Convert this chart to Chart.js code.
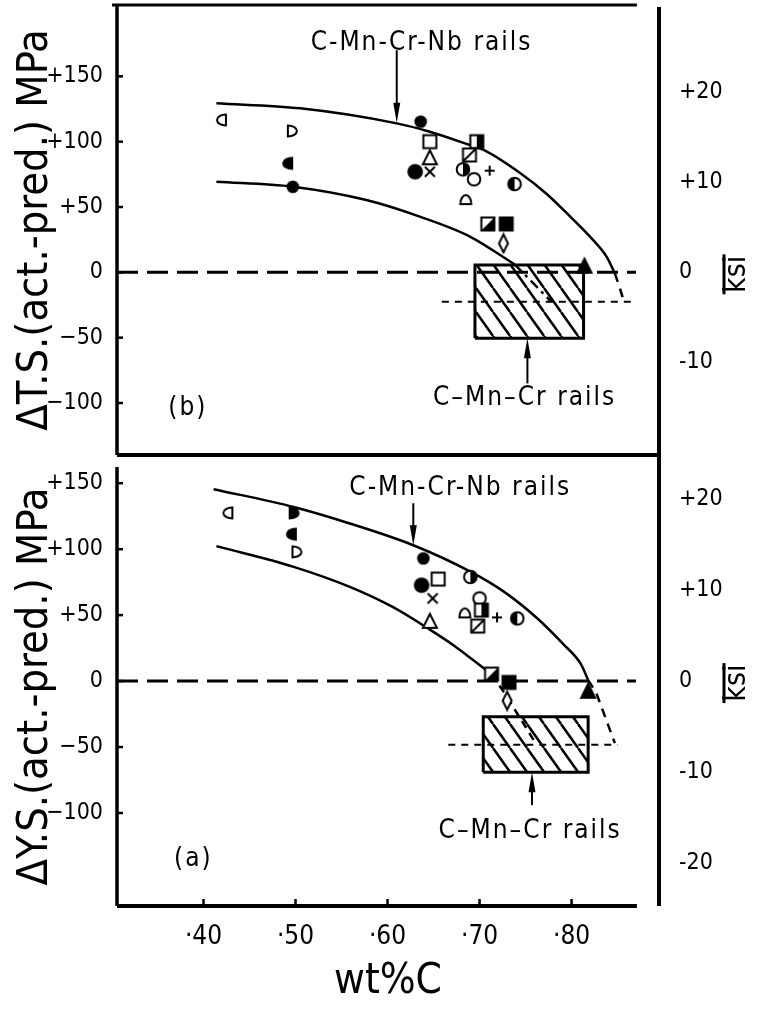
<!DOCTYPE html>
<html>
<head>
<meta charset="utf-8">
<script src="https://cdn.jsdelivr.net/npm/chart.js@4.4.1/dist/chart.umd.min.js"></script>
<style>
  html, body { margin: 0; padding: 0; background: #fff; }
  #wrap { position: relative; width: 761px; height: 1009px; }
  .panel { position: absolute; left: 0; width: 761px; }
  #tsPanel { top: 0; height: 460px; }
  #ysPanel { top: 460px; height: 549px; }
</style>
</head>
<body>
<div id="wrap">
  <div class="panel" id="tsPanel"><canvas id="tsChart"></canvas></div>
  <div class="panel" id="ysPanel"><canvas id="ysChart"></canvas></div>
</div>
<script>
// Deviation of actual from predicted strength vs carbon content

const KSI = 6.895; // MPa per ksi

const carbonTicks = [0.40, 0.50, 0.60, 0.70, 0.80];
const mpaTicks = [150, 100, 50, 0, -50, -100];
const ksiTicksTS = [20, 10, 0, -10];
const ksiTicksYS = [20, 10, 0, -10, -20];

const carbonMin = 0.306;
const carbonMax = 0.895;
const axisEndC = 0.871;
const tsMin = -139.8, tsMax = 204.6;
const ysMin = -170.5, ysMax = 162.3;

// (b) tensile strength
const tsCarbon = [0.420, 0.496, 0.492, 0.497, 0.636, 0.646, 0.646, 0.646, 0.630, 0.697,
                  0.689, 0.682, 0.694, 0.711, 0.738, 0.685, 0.709, 0.729, 0.726, 0.814];
const tsDelta = [116.6, 108.2, 83.4, 65.5, 115.3, 100.0, 87.3, 77.0, 77.0, 100.0,
                 89.8, 78.8, 71.2, 77.8, 67.6, 55.3, 37.0, 37.0, 22.2, 4.3];
const tsSymbol = ["dLeftOpen", "dRightOpen", "dLeftFilled", "dot", "dot", "square", "triangle", "x", "bigDot", "squareRight",
                  "squareSlash", "halfRight", "circle", "cross", "halfLeft", "dome", "squareSlashFilled", "squareFilled", "diamond", "triangleFilled"];

const tsUpperC = [0.414, 0.505, 0.610, 0.646, 0.684, 0.706, 0.744, 0.773, 0.798, 0.823, 0.838, 0.847];
const tsUpperD = [129.4, 125.5, 114.0, 107.6, 98.7, 93.1, 76.0, 60.0, 43.0, 25.0, 12.0, -0.8];
const tsUpperExtC = [0.847, 0.852, 0.857];
const tsUpperExtD = [-0.8, -11.0, -22.5];
const tsLowerC = [0.414, 0.497, 0.577, 0.635, 0.690, 0.738];
const tsLowerD = [69.3, 65.5, 55.3, 42.6, 27.2, 6.1];
const tsLowerExtC = [0.738, 0.758, 0.778];
const tsLowerExtD = [6.1, -8.0, -22.5];
const tsBoxC = [0.695, 0.813];
const tsBoxD = [-50.5, 5.6];
const tsRefC = [0.659, 0.867];
const tsRefD = -22.5;

// (a) yield strength
const ysCarbon = [0.427, 0.498, 0.496, 0.501, 0.639, 0.637, 0.655, 0.649, 0.646, 0.690,
                  0.700, 0.684, 0.702, 0.698, 0.719, 0.741, 0.713, 0.732, 0.730, 0.818];
const ysDelta = [127.5, 127.5, 111.4, 98.0, 93.0, 72.7, 77.3, 62.7, 44.9, 79.0,
                 62.7, 51.3, 53.8, 41.7, 48.3, 47.5, 5.3, -1.0, -14.9, -8.1];
const ysSymbol = ["dLeftOpen", "dRightFilled", "dLeftFilled", "dRightOpen", "dot", "bigDot", "square", "x", "triangle", "halfRight",
                  "circle", "dome", "squareRight", "squareSlash", "cross", "halfLeft", "squareSlashFilled", "squareFilled", "diamond", "triangleFilled"];

const ysUpperC = [0.411, 0.498, 0.559, 0.628, 0.690, 0.726, 0.762, 0.791, 0.810, 0.818];
const ysUpperD = [145.5, 132.0, 119.5, 103.0, 83.0, 68.0, 48.0, 28.0, 13.0, 0.8];
const ysUpperExtC = [0.818, 0.827, 0.847];
const ysUpperExtD = [0.8, -9.3, -47.0];
const ysLowerC = [0.414, 0.498, 0.559, 0.606, 0.646, 0.672, 0.693, 0.713];
const ysLowerD = [102.3, 86.6, 71.4, 56.0, 39.0, 27.0, 16.0, 5.3];
const ysLowerExtC = [0.713, 0.726, 0.744, 0.762];
const ysLowerExtD = [5.3, -8.0, -28.0, -48.3];
const ysBoxC = [0.704, 0.818];
const ysBoxD = [-69.2, -27.0];
const ysRefC = [0.666, 0.850];
const ysRefD = -48.3;

// labels and arrows
const tsNotes = [
  { text: "C-Mn-Cr-Nb rails", c: 0.637, d: 175 },
  { text: "C\u2013Mn\u2013Cr rails", c: 0.749, d: -96 },
  { text: "(b)", c: 0.383, d: -104 },
];
const tsArrows = [
  { c: 0.610, from: 170, to: 114.5 },
  { c: 0.752, from: -85, to: -50.5 },
];
const ysNotes = [
  { text: "C-Mn-Cr-Nb rails", c: 0.679, d: 146 },
  { text: "C\u2013Mn\u2013Cr rails", c: 0.755, d: -113.6 },
  { text: "(a)", c: 0.389, d: -135 },
];
const ysArrows = [
  { c: 0.628, from: 134.8, to: 103 },
  { c: 0.757, from: -94, to: -69.2 },
];

const FONT = "'DejaVu Sans Condensed', 'DejaVu Sans', sans-serif";
Chart.defaults.font.family = FONT;
Chart.defaults.color = "#000";

function pts(xs, ys) {
  return xs.map((x, i) => ({ x: x, y: Array.isArray(ys) ? ys[i] : ys }));
}

function boxPts(cs, ds) {
  return [
    { x: cs[0], y: ds[0] }, { x: cs[1], y: ds[0] },
    { x: cs[1], y: ds[1] }, { x: cs[0], y: ds[1] },
    { x: cs[0], y: ds[0] },
  ];
}

// small glyphs used as point styles
function markerCanvas(kind) {
  const size = 22;
  const cv = document.createElement("canvas");
  cv.width = size;
  cv.height = size;
  const g = cv.getContext("2d");
  g.translate(size / 2, size / 2);
  g.lineWidth = 2;
  g.strokeStyle = "#000";
  g.fillStyle = "#000";
  const s = 6.5;
  const white = () => { g.fillStyle = "#fff"; g.fill(); g.fillStyle = "#000"; };
  switch (kind) {
    case "dot":
      g.beginPath(); g.arc(0, 0, 6.3, 0, Math.PI * 2); g.fill(); break;
    case "bigDot":
      g.beginPath(); g.arc(0, 0, 7.8, 0, Math.PI * 2); g.fill(); break;
    case "circle":
      g.beginPath(); g.arc(0, 0, 6.3, 0, Math.PI * 2); white(); g.stroke(); break;
    case "halfLeft":
    case "halfRight":
      g.beginPath(); g.arc(0, 0, 6.3, 0, Math.PI * 2); white(); g.stroke();
      g.beginPath();
      if (kind === "halfLeft") g.arc(0, 0, 6.3, Math.PI / 2, Math.PI * 1.5);
      else g.arc(0, 0, 6.3, -Math.PI / 2, Math.PI / 2);
      g.closePath(); g.fill(); break;
    case "square":
      g.beginPath(); g.rect(-s, -s, 2 * s, 2 * s); white(); g.stroke(); break;
    case "squareFilled":
      g.fillRect(-s - 1, -s - 1, 2 * s + 2, 2 * s + 2); break;
    case "squareRight":
      g.beginPath(); g.rect(-s, -s, 2 * s, 2 * s); white();
      g.fillRect(0, -s, s, 2 * s); g.stroke(); break;
    case "squareSlash":
      g.beginPath(); g.rect(-s, -s, 2 * s, 2 * s); white(); g.stroke();
      g.beginPath(); g.moveTo(-s, s); g.lineTo(s, -s); g.stroke(); break;
    case "squareSlashFilled":
      g.beginPath(); g.rect(-s, -s, 2 * s, 2 * s); white();
      g.beginPath(); g.moveTo(-s, s); g.lineTo(s, s); g.lineTo(s, -s); g.closePath(); g.fill();
      g.beginPath(); g.rect(-s, -s, 2 * s, 2 * s); g.stroke(); break;
    case "triangle":
    case "triangleFilled":
      g.beginPath(); g.moveTo(0, -8); g.lineTo(7, 6); g.lineTo(-7, 6); g.closePath();
      if (kind === "triangle") { white(); g.stroke(); } else { g.fill(); g.stroke(); }
      break;
    case "cross":
      g.beginPath(); g.moveTo(-5, 0); g.lineTo(5, 0); g.moveTo(0, -5); g.lineTo(0, 5); g.stroke(); break;
    case "x":
      g.beginPath(); g.moveTo(-5, -5); g.lineTo(5, 5); g.moveTo(5, -5); g.lineTo(-5, 5); g.stroke(); break;
    case "diamond":
      g.beginPath(); g.moveTo(0, -9); g.lineTo(4.5, 0); g.lineTo(0, 9); g.lineTo(-4.5, 0); g.closePath();
      white(); g.stroke(); break;
    case "dLeftOpen":
    case "dLeftFilled":
      g.beginPath(); g.moveTo(4, -5.5); g.lineTo(4, 5.5);
      g.ellipse(4, 0, 9, 5.5, 0, Math.PI / 2, Math.PI * 1.5); g.closePath();
      if (kind === "dLeftOpen") { white(); g.stroke(); } else { g.fill(); g.stroke(); }
      break;
    case "dRightOpen":
    case "dRightFilled":
      g.beginPath(); g.moveTo(-4, 5.5); g.lineTo(-4, -5.5);
      g.ellipse(-4, 0, 9, 5.5, 0, -Math.PI / 2, Math.PI / 2); g.closePath();
      if (kind === "dRightOpen") { white(); g.stroke(); } else { g.fill(); g.stroke(); }
      break;
    case "dome":
      g.beginPath(); g.ellipse(0, 4, 5.5, 9, 0, Math.PI, Math.PI * 2); g.closePath();
      white(); g.stroke(); break;
  }
  return cv;
}

const MARKERS = {};
[...new Set(tsSymbol.concat(ysSymbol))].forEach((k) => { MARKERS[k] = markerCanvas(k); });

function hatchPattern(canvasId) {
  const w = 17, h = 24;
  const cv = document.createElement("canvas");
  cv.width = w;
  cv.height = h;
  const g = cv.getContext("2d");
  g.strokeStyle = "#000";
  g.lineWidth = 2.5;
  g.beginPath();
  [-w, 0, w].forEach((k) => { g.moveTo(k, 0); g.lineTo(k + w, h); });
  g.stroke();
  return document.getElementById(canvasId).getContext("2d").createPattern(cv, "repeat");
}

function fmtMPa(v) {
  if (v > 0) return "+" + v;
  if (v < 0) return "\u2212" + (-v);
  return "0";
}

function fmtKsi(v) {
  if (v > 0) return "+" + v;
  if (v < 0) return "-" + (-v);
  return "0";
}

// keep the axis boxes at fixed sizes, no label overflow padding
function fixBox(dim, size) {
  return (s) => {
    s[dim] = size;
    s.paddingTop = 0;
    s.paddingBottom = 0;
    s.paddingLeft = 0;
    s.paddingRight = 0;
  };
}

function buildDatasets(p) {
  return [
    {
      data: pts(p.carbon, p.delta),
      pointStyle: p.symbol.map((k) => MARKERS[k]),
      pointRadius: 6,
      showLine: false,
    },
    { data: pts(p.upperC, p.upperD), showLine: true, pointRadius: 0, borderColor: "#000", borderWidth: 2.5, cubicInterpolationMode: "monotone" },
    { data: pts(p.upperExtC, p.upperExtD), showLine: true, pointRadius: 0, borderColor: "#000", borderWidth: 2.5, borderDash: [9, 7] },
    { data: pts(p.lowerC, p.lowerD), showLine: true, pointRadius: 0, borderColor: "#000", borderWidth: 2.5, cubicInterpolationMode: "monotone" },
    { data: pts(p.lowerExtC, p.lowerExtD), showLine: true, pointRadius: 0, borderColor: "#000", borderWidth: 2.5, borderDash: p.lowerDash },
    { data: pts([carbonMin, 0.870], 0), showLine: true, pointRadius: 0, borderColor: "#000", borderWidth: 3, borderDash: [21, 9] },
    { data: pts(p.refC, p.refD), showLine: true, pointRadius: 0, borderColor: "#000", borderWidth: 2, borderDash: [7, 6] },
    {
      data: boxPts(p.boxC, p.boxD),
      showLine: true, pointRadius: 0, borderColor: "#000", borderWidth: 3,
      backgroundColor: p.hatch, fill: "shape",
    },
  ];
}

// axis frame, inward ticks, notes and arrows
function framePlugin(p) {
  return {
    id: "frame",
    afterDraw(chart) {
      const ctx = chart.ctx;
      const a = chart.chartArea;
      const xs = chart.scales.x;
      const ys = chart.scales.y;
      ctx.save();
      ctx.strokeStyle = "#000";
      ctx.fillStyle = "#000";
      ctx.lineCap = "butt";

      const line = (x1, y1, x2, y2, w) => {
        ctx.lineWidth = w;
        ctx.beginPath();
        ctx.moveTo(x1, y1);
        ctx.lineTo(x2, y2);
        ctx.stroke();
      };

      // left axis and its inward ticks
      line(a.left, a.top, a.left, a.bottom, 3.5);
      mpaTicks.forEach((v) => {
        const y = ys.getPixelForValue(v);
        line(a.left, y, a.left + 6, y, 2.5);
      });

      if (p.top) {
        line(a.left - 5, a.top, xs.getPixelForValue(axisEndC), a.top, 3);
        line(a.left, a.bottom, a.right + 2, a.bottom, 4);
        line(a.right, a.top + 2, a.right, chart.height, 4);
      } else {
        line(a.left, a.bottom, xs.getPixelForValue(axisEndC), a.bottom, 4);
        line(a.right, 0, a.right, a.bottom, 4);
        carbonTicks.forEach((c) => {
          const x = xs.getPixelForValue(c);
          line(x, a.bottom, x, a.bottom - 7, 2.5);
        });
      }

      // notes
      ctx.font = "26px " + FONT;
      ctx.letterSpacing = "2px";
      ctx.textAlign = "center";
      ctx.textBaseline = "middle";
      p.notes.forEach((n) => {
        ctx.fillText(n.text, xs.getPixelForValue(n.c), ys.getPixelForValue(n.d));
      });
      ctx.letterSpacing = "0px";

      // arrows
      p.arrows.forEach((ar) => {
        const x = xs.getPixelForValue(ar.c);
        const y1 = ys.getPixelForValue(ar.from);
        const y2 = ys.getPixelForValue(ar.to);
        const dir = y2 > y1 ? 1 : -1;
        line(x, y1, x, y2 - dir * 10, 2);
        ctx.beginPath();
        ctx.moveTo(x, y2);
        ctx.lineTo(x - 3.5, y2 - dir * 20);
        ctx.lineTo(x + 3.5, y2 - dir * 20);
        ctx.closePath();
        ctx.fill();
      });

      // ksi title on the right
      const kx = a.right + 78;
      const ky = ys.getPixelForValue(0) + 2;
      ctx.save();
      ctx.translate(kx, ky);
      ctx.rotate(-Math.PI / 2);
      ctx.font = "30px " + FONT;
      ctx.textAlign = "center";
      ctx.textBaseline = "middle";
      ctx.fillText("ksi", 0, 0);
      ctx.restore();
      line(kx - 13, ky - 20, kx - 13, ky + 20, 3);

      ctx.restore();
    },
  };
}

function makeChart(canvasId, p) {
  return new Chart(document.getElementById(canvasId), {
    type: "scatter",
    data: { datasets: buildDatasets(p) },
    options: {
      responsive: true,
      maintainAspectRatio: false,
      animation: false,
      devicePixelRatio: 1,
      layout: { autoPadding: false, padding: { top: p.padTop, left: 0, right: 0, bottom: 0 } },
      plugins: { legend: { display: false }, tooltip: { enabled: false } },
      scales: {
        x: {
          type: "linear",
          min: carbonMin,
          max: carbonMax,
          afterBuildTicks: (s) => { s.ticks = carbonTicks.map((v) => ({ value: v })); },
          afterFit: fixBox("height", p.xHeight),
          grid: { display: false },
          border: { display: false },
          ticks: {
            display: !p.top,
            font: { size: 26 },
            padding: 8,
            callback: (v) => "\u00b7" + Math.round(v * 100),
          },
          title: {
            display: !p.top,
            text: "wt%C",
            font: { size: 42 },
            padding: { top: 0, bottom: 2 },
          },
        },
        y: {
          type: "linear",
          min: p.min,
          max: p.max,
          afterBuildTicks: (s) => { s.ticks = mpaTicks.map((v) => ({ value: v })); },
          afterFit: fixBox("width", 117),
          grid: { display: false },
          border: { display: false },
          ticks: { font: { size: 23 }, padding: 6, callback: fmtMPa },
          title: { display: true, text: p.yTitle, font: { size: 43 }, padding: { top: 10, bottom: 0 } },
        },
        y2: {
          type: "linear",
          position: "right",
          min: p.min / KSI,
          max: p.max / KSI,
          afterBuildTicks: (s) => { s.ticks = p.ksiTicks.map((v) => ({ value: v })); },
          afterFit: fixBox("width", 102),
          grid: { display: false },
          border: { display: false },
          ticks: { font: { size: 23 }, padding: 12, callback: fmtKsi },
        },
      },
    },
    plugins: [framePlugin(p)],
  });
}

window.tsChart = makeChart("tsChart", {
  top: true,
  padTop: 5,
  xHeight: 5,
  min: tsMin,
  max: tsMax,
  yTitle: "\u0394T.S.(act.-pred.) MPa",
  ksiTicks: ksiTicksTS,
  carbon: tsCarbon, delta: tsDelta, symbol: tsSymbol,
  upperC: tsUpperC, upperD: tsUpperD, upperExtC: tsUpperExtC, upperExtD: tsUpperExtD,
  lowerC: tsLowerC, lowerD: tsLowerD, lowerExtC: tsLowerExtC, lowerExtD: tsLowerExtD,
  lowerDash: [10, 5, 3, 5],
  boxC: tsBoxC, boxD: tsBoxD, refC: tsRefC, refD: tsRefD,
  hatch: hatchPattern("tsChart"),
  notes: tsNotes, arrows: tsArrows,
});

window.ysChart = makeChart("ysChart", {
  top: false,
  padTop: 7,
  xHeight: 103,
  min: ysMin,
  max: ysMax,
  yTitle: "\u0394Y.S.(act.-pred.) MPa",
  ksiTicks: ksiTicksYS,
  carbon: ysCarbon, delta: ysDelta, symbol: ysSymbol,
  upperC: ysUpperC, upperD: ysUpperD, upperExtC: ysUpperExtC, upperExtD: ysUpperExtD,
  lowerC: ysLowerC, lowerD: ysLowerD, lowerExtC: ysLowerExtC, lowerExtD: ysLowerExtD,
  lowerDash: [8, 6],
  boxC: ysBoxC, boxD: ysBoxD, refC: ysRefC, refD: ysRefD,
  hatch: hatchPattern("ysChart"),
  notes: ysNotes, arrows: ysArrows,
});
</script>
</body>
</html>
